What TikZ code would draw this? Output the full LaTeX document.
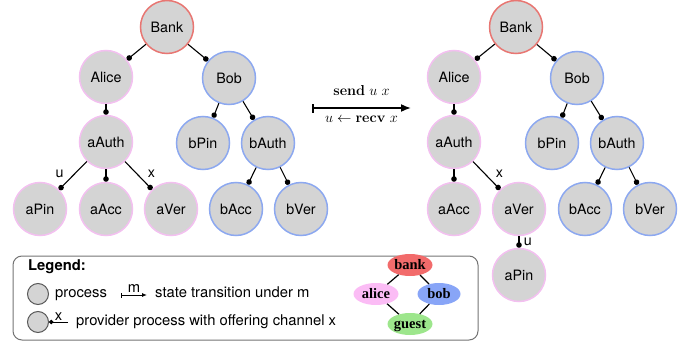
\documentclass[tikz,border=0pt]{standalone}
\usepackage[no-math]{fontspec}
\setmainfont{TeX Gyre Heros}
\newfontfamily\rolefont{Liberation Serif}
\usetikzlibrary{positioning,arrows.meta,shapes.geometric}

\definecolor{procfill}{HTML}{D4D4D4}
\definecolor{bankline}{HTML}{E87672}
\definecolor{aliceline}{HTML}{F3C0F0}
\definecolor{bobline}{HTML}{8CA8F0}
\definecolor{bankfill}{HTML}{F26B6B}
\definecolor{alicefill}{HTML}{FBBCF5}
\definecolor{bobfill}{HTML}{88A5F7}
\definecolor{guestfill}{HTML}{9DE68C}

\tikzset{
	proc/.style={circle, draw, fill=procfill, line width=1.5pt, minimum size=53pt, inner sep=0pt, font=\fontsize{14.3}{16}\selectfont},
	bankproc/.style={proc, draw=bankline},
	aliceproc/.style={proc, draw=aliceline},
	bobproc/.style={proc, draw=bobline},
	offer/.style={-{Circle[length=5.5pt]}, line width=1.1pt},
	chan/.style={font=\fontsize{14.3}{16}\selectfont},
	trans/.style={{Bar[width=9pt]}-{Latex[length=10pt, width=8pt]}, line width=1.6pt},
	legproc/.style={circle, draw=black!65, fill=procfill, line width=1pt, minimum size=21pt, inner sep=0pt},
	legtext/.style={anchor=west, text height=10pt, text depth=3pt, inner sep=0pt},
	role/.style={ellipse, inner sep=0pt, minimum width=45pt, minimum height=22pt},
	rolename/.style={font=\fontsize{14.5}{17}\rolefont\bfseries, inner sep=0pt, text height=9.5pt, text depth=0pt},
}

\begin{document}
\begin{tikzpicture}[x=1pt, y=-1pt, node distance=50pt, on grid, font=\fontsize{14.8}{17}\selectfont]
	\useasboundingbox (0,0) rectangle (699,345);

	\node[bankproc] (bank1) at (167,27) {Bank};
	\node[aliceproc, below left=50pt and 61pt of bank1] (alice1) {Alice};
	\node[bobproc, below right=51pt and 62pt of bank1] (bob1) {Bob};
	\node[aliceproc, below=65pt of alice1] (aauth1) {aAuth};
	\node[bobproc, below left=65pt and 26pt of bob1] (bpin1) {bPin};
	\node[bobproc, below right=65pt and 39pt of bob1] (bauth1) {bAuth};
	\node[aliceproc, below left=67pt and 66pt of aauth1] (apin1) {aPin};
	\node[aliceproc, below=67pt of aauth1] (aacc1) {aAcc};
	\node[aliceproc, below right=67pt and 65pt of aauth1] (aver1) {aVer};
	\node[bobproc, below left=66pt and 32pt of bauth1] (bacc1) {bAcc};
	\node[bobproc, below right=66pt and 33pt of bauth1] (bver1) {bVer};

	\draw[offer] (bank1) -- (alice1);
	\draw[offer] (bank1) -- (bob1);
	\draw[offer] (alice1) -- (aauth1);
	\draw[offer] (bob1) -- (bpin1);
	\draw[offer] (bob1) -- (bauth1);
	\draw[offer] (aauth1) -- node[chan, pos=0.7, above left] {u} (apin1);
	\draw[offer] (aauth1) -- (aacc1);
	\draw[offer] (aauth1) -- node[chan, pos=0.7, above right] {x} (aver1);
	\draw[offer] (bauth1) -- (bacc1);
	\draw[offer] (bauth1) -- (bver1);

	\coordinate (from) at (312,108);
	\coordinate (to) at (411,108);
	\draw[trans] (from) -- node[above=8pt, font=\fontsize{15}{18}\selectfont] {$\mathbf{send}\ u\ x$}
		node[below=4pt, font=\fontsize{15}{18}\selectfont] {$u \leftarrow \mathbf{recv}\ x$} (to);

	\node[bankproc] (bank2) at (516,27) {Bank};
	\node[aliceproc, below left=50pt and 62pt of bank2] (alice2) {Alice};
	\node[bobproc, below right=51pt and 61pt of bank2] (bob2) {Bob};
	\node[aliceproc, below=65pt of alice2] (aauth2) {aAuth};
	\node[bobproc, below left=65pt and 25pt of bob2] (bpin2) {bPin};
	\node[bobproc, below right=65pt and 40pt of bob2] (bauth2) {bAuth};
	\node[aliceproc, below=67pt of aauth2] (aacc2) {aAcc};
	\node[aliceproc, below right=67pt and 65pt of aauth2] (aver2) {aVer};
	\node[aliceproc, below=66pt of aver2] (apin2) {aPin};
	\node[bobproc, below left=66pt and 32pt of bauth2] (bacc2) {bAcc};
	\node[bobproc, below right=66pt and 33pt of bauth2] (bver2) {bVer};

	\draw[offer] (bank2) -- (alice2);
	\draw[offer] (bank2) -- (bob2);
	\draw[offer] (alice2) -- (aauth2);
	\draw[offer] (bob2) -- (bpin2);
	\draw[offer] (bob2) -- (bauth2);
	\draw[offer] (aauth2) -- (aacc2);
	\draw[offer] (aauth2) -- node[chan, pos=0.7, above right] {x} (aver2);
	\draw[offer] (aver2) -- node[chan, right=1pt] {u} (apin2);
	\draw[offer] (bauth2) -- (bacc2);
	\draw[offer] (bauth2) -- (bver2);

	\draw[rounded corners=9pt, draw=black!55, line width=1pt] (13,256) rectangle (478,340);
	\node[legtext, font=\fontsize{14.8}{17}\selectfont\bfseries] (legend) at (28,267) {Legend:};
	\node[legproc] (lproc) at (38,294) {};
	\node[legtext] (lproctext) at (55,294) {process};
	\coordinate (mfrom) at (121,295);
	\coordinate (mto) at (147,295);
	\draw[{Bar[width=5pt]}-{Latex[length=5pt, width=4pt]}, line width=0.9pt] (mfrom) -- node[above=1pt, inner sep=1pt] {m} (mto);
	\node[legtext] (ltranstext) at (155,294) {state transition under m};
	\node[legproc] (lprov) at (38,322) {};
	\coordinate (lchan) at (68,322);
	\draw[-{Circle[length=4.5pt]}, line width=1pt] (lchan) -- node[above, inner sep=1pt] {x} (lprov);
	\node[legtext] (lprovtext) at (76,322) {provider process with offering channel x};

	\node[role, fill=bankfill] (rbank) at (410,265) {};
	\node[role, fill=alicefill] (ralice) at (376,294) {};
	\node[role, fill=bobfill, minimum width=43pt] (rbob) at (439,294) {};
	\node[role, fill=guestfill] (rguest) at (410,324) {};
	\node[rolename] at (rbank) {bank};
	\node[rolename] at (ralice) {alice};
	\node[rolename] at (rbob) {bob};
	\node[rolename] at (rguest) {guest};
	\draw[line width=1.2pt] (rbank) -- (ralice);
	\draw[line width=1.2pt] (rbank) -- (rbob);
	\draw[line width=1.2pt] (ralice) -- (rguest);
	\draw[line width=1.2pt] (rbob) -- (rguest);
\end{tikzpicture}
\end{document}
